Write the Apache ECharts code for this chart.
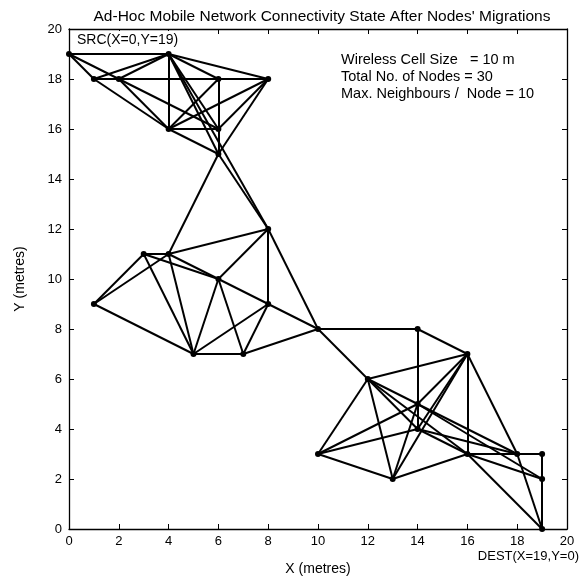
<!DOCTYPE html>
<html><head><meta charset="utf-8">
<script src="https://cdn.jsdelivr.net/npm/echarts@6/dist/echarts.min.js"></script>
<style>html,body{margin:0;padding:0;background:#fff}#c{width:582px;height:579px}</style>
</head><body><div id="c"></div>
<script>
// Node positions (metres)
var nodeX = [0,1,2,4,6,8,4,6,6, 1,3,4,6,8,8,5,7,10, 14,16,12,14,14,10,13,16,18,19,19,19];
var nodeY = [19,18,18,19,18,18,16,16,15, 9,11,11,10,12,9,7,7,8, 8,7,6,5,4,3,2,3,3,3,2,0];
// Links between nodes (indices into node arrays)
var edges = [
  [0,3],[0,1],[0,2],[1,2],[2,4],[4,5],[1,3],[2,3],[1,6],[2,6],[2,7],
  [3,4],[3,5],[3,6],[3,7],[3,8],[3,13],[6,4],[6,5],[6,7],[6,8],[4,7],[7,8],
  [7,5],[8,5],[8,13],[8,11],
  [9,10],[9,11],[9,15],[10,11],[10,12],[11,12],[10,15],[11,15],[11,13],
  [12,13],[12,15],[12,16],[12,14],[13,14],[13,17],[15,16],[15,14],[16,14],
  [16,17],[14,17],
  [17,20],[17,18],[18,19],[18,21],[21,22],[20,19],[20,23],[20,24],[20,21],
  [20,22],[20,25],[23,21],[23,22],[23,24],[24,21],[24,19],[24,25],[21,19],
  [22,19],[21,26],[21,28],[22,26],[22,25],[19,25],[19,26],[26,29],[25,26],
  [26,27],[27,28],[28,29],[25,28],[25,29]
];
var xTicks = [0,2,4,6,8,10,12,14,16,18,20];
var yTicks = [0,2,4,6,8,10,12,14,16,18,20];
var titleText = "Ad-Hoc Mobile Network Connectivity State After Nodes' Migrations";
var infoLines = ["Wireless Cell Size   = 10 m", "Total No. of Nodes = 30", "Max. Neighbours /  Node = 10"];
var srcLabel = "SRC(X=0,Y=19)";
var destLabel = "DEST(X=19,Y=0)";

var FONT = "'Liberation Sans', Arial, Helvetica, sans-serif";
var chart = echarts.init(document.getElementById('c'), null, {renderer:'canvas'});
var nodes = nodeX.map(function(x,i){ return {name:'n'+i, value:[x, nodeY[i]]}; });
var links = edges.map(function(e){ return {source:'n'+e[0], target:'n'+e[1]}; });

function axisCommon(show){
  return {
    type:'value', min:xTicks[0], max:xTicks[xTicks.length-1], interval:xTicks[1]-xTicks[0],
    axisLine:{show:true, onZero:false, lineStyle:{color:'#000', width:1.3}},
    axisTick:{show:true, inside:true, length:5, lineStyle:{color:'#000', width:1}},
    axisLabel:{show:show, color:'#000', fontFamily:FONT, fontSize:13},
    splitLine:{show:false}
  };
}
var xa0 = axisCommon(true); xa0.position='bottom'; xa0.name='X (metres)'; xa0.nameLocation='middle'; xa0.nameGap=33;
xa0.nameTextStyle={color:'#000', fontFamily:FONT, fontSize:14}; xa0.axisLabel.margin=6;
var xa1 = axisCommon(false); xa1.position='top';
var ya0 = axisCommon(true); ya0.min=yTicks[0]; ya0.max=yTicks[yTicks.length-1]; ya0.interval=yTicks[1]-yTicks[0];
ya0.position='left'; ya0.name='Y (metres)'; ya0.nameLocation='middle'; ya0.nameGap=42;
ya0.nameTextStyle={color:'#000', fontFamily:FONT, fontSize:14}; ya0.axisLabel.margin=7;
var ya1 = axisCommon(false); ya1.min=ya0.min; ya1.max=ya0.max; ya1.interval=ya0.interval; ya1.position='right';

chart.setOption({
  animation:false,
  backgroundColor:'#fff',
  title:{text:titleText, left:317, top:4, textAlign:'center',
    textStyle:{color:'#000', fontFamily:FONT, fontSize:15.5, fontWeight:'normal'}},
  grid:{left:69, right:15, top:29, bottom:50, containLabel:false, outerBoundsMode:'none'},
  xAxis:[xa0, xa1],
  yAxis:[ya0, ya1],
  series:[{
    type:'graph', coordinateSystem:'cartesian2d', xAxisIndex:0, yAxisIndex:0,
    data:nodes, links:links,
    symbol:'circle', symbolSize:6,
    itemStyle:{color:'#000'},
    lineStyle:{color:'#000', width:2, opacity:1, curveness:0},
    label:{show:false}, emphasis:{disabled:true}
  }],
  graphic:[
    {type:'rect', left:71, top:31, shape:{width:120, height:18}, style:{fill:'#fff'}, z:100},
    {type:'text', left:77, top:33, z:101, style:{text:srcLabel, fill:'#000', font:'14px '+FONT}},
    {type:'text', right:3, top:550, style:{text:destLabel, fill:'#000', font:'13px '+FONT}},
    {type:'text', left:341, top:51, style:{text:infoLines.join('\n'), fill:'#000', font:'14.5px '+FONT, lineHeight:17}}
  ]
});
</script></body></html>
